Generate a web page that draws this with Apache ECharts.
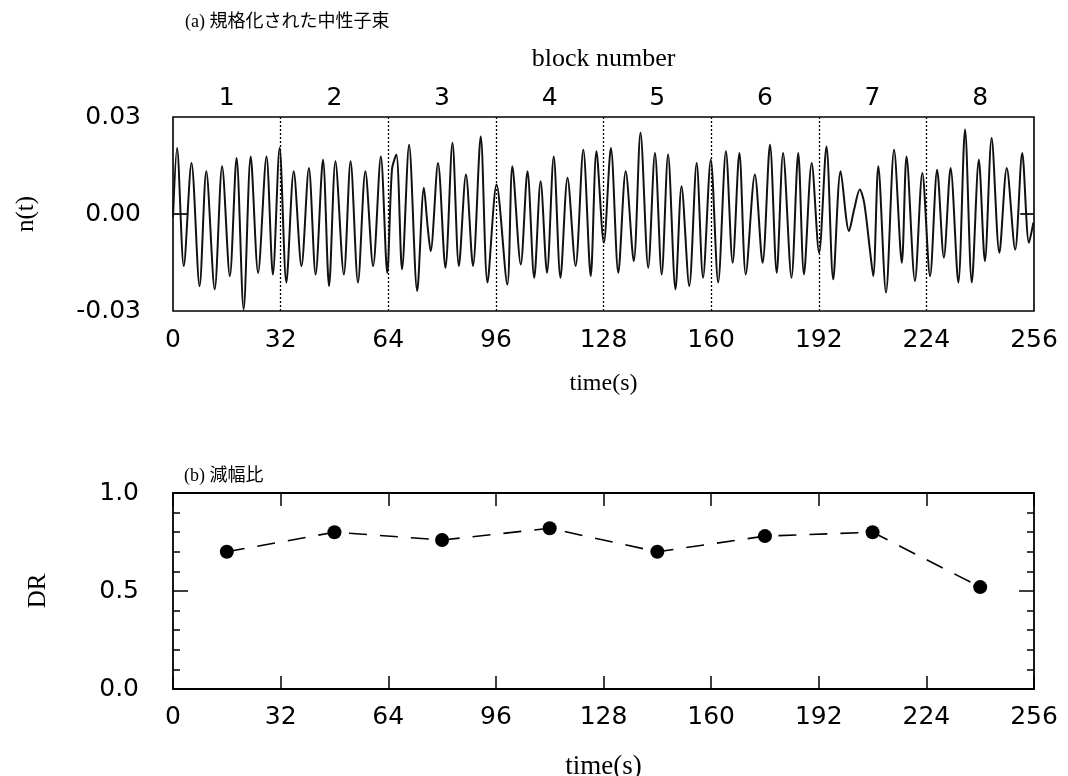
<!DOCTYPE html>
<html>
<head>
<meta charset="utf-8">
<script src="https://cdn.jsdelivr.net/npm/echarts@6/dist/echarts.min.js"></script>
<style>
html,body{margin:0;padding:0;background:#fff;}
#chart{width:1068px;height:776px;}
</style>
</head>
<body>
<div id="chart"></div>
<script>
// ---- data ----
const fluxTime = [
  0, 1.2, 3.2, 5.5, 7.9, 9.9, 12.4, 14.6, 16.9, 18.9, 21.0, 23.1, 25.3, 27.8, 29.7, 31.7,
  33.7, 35.9, 38.2, 40.4, 42.4, 44.6, 46.4, 48.3, 50.8, 52.8, 55.0, 57.2, 59.5, 61.8, 63.7,
  65.1, 66.4, 68.1, 70.2, 72.6, 74.6, 75.7, 76.6, 78.8, 81.0, 83.1, 85.0, 87.1, 89.2, 91.5, 93.5, 96.2,
  99.4, 100.9, 103.4, 105.4, 107.4, 109.3, 111.2, 113.2, 115.2, 117.3, 119.7, 122.0, 124.2, 125.9, 128.1,
  130.2, 132.4, 134.6, 137.0, 139.0, 141.3, 143.3, 145.3, 147.2, 149.4, 151.2, 153.5, 155.7, 157.6, 159.9,
  162.1, 164.4, 166.4, 168.4, 170.3, 173.0, 175.3, 177.5, 179.5, 181.4, 183.9, 185.9, 187.6, 189.9, 192.1,
  194.3, 196.3, 198.5, 201.0, 202.5, 204.2, 205.5, 207.2, 208.2, 209.7, 212.0, 214.4, 216.7, 218.1, 220.6, 222.8,
  225.1, 227.2, 229.2, 231.2, 233.5, 235.5, 237.5, 239.6, 241.4, 243.4, 245.7, 247.9, 250.4, 252.5, 254.5, 255.8
];
const fluxValue = [
  -0.001, 0.0204, -0.0161, 0.0158, -0.0223, 0.0132, -0.0233, 0.0148, -0.0192, 0.0173, -0.0295, 0.0178, -0.0182, 0.0178, -0.0187, 0.0204,
  -0.0212, 0.0132, -0.0161, 0.0142, -0.0187, 0.0168, -0.0223, 0.0163, -0.0187, 0.0163, -0.0212, 0.0132, -0.0161, 0.0178, -0.0182,
  0.0137, 0.0184, -0.0171, 0.0214, -0.0238, 0.0081, -0.0038, -0.0115, 0.0158, -0.0166, 0.0220, -0.0161, 0.0122, -0.0161, 0.0240, -0.0212, 0.0091,
  -0.0218, 0.0148, -0.0156, 0.0132, -0.0197, 0.0101, -0.0182, 0.0178, -0.0197, 0.0112, -0.0161, 0.0199, -0.0192, 0.0194, -0.0089,
  0.0204, -0.0182, 0.0132, -0.0146, 0.0251, -0.0166, 0.0189, -0.0187, 0.0184, -0.0233, 0.0086, -0.0223, 0.0158, -0.0197, 0.0168,
  -0.0212, 0.0194, -0.0151, 0.0189, -0.0187, 0.0122, -0.0151, 0.0214, -0.0182, 0.0189, -0.0197, 0.0189, -0.0187, 0.0158, -0.0120,
  0.0209, -0.0202, 0.0132, -0.0053, 0.0013, 0.0076, 0.0035, -0.0110, -0.0192, 0.0148, -0.0243, 0.0199, -0.0151, 0.0178, -0.0207, 0.0127,
  -0.0192, 0.0137, -0.0135, 0.0142, -0.0212, 0.0261, -0.0212, 0.0168, -0.0146, 0.0235, -0.0120, 0.0142, -0.0110, 0.0189, -0.0089, -0.0027
];
const zeroStartTime = [0, 4.5];
const zeroEndTime = [251.9, 256];
const blockLabels = ['1', '2', '3', '4', '5', '6', '7', '8'];
const drTime = [16, 48, 80, 112, 144, 176, 208, 240];
const drValue = [0.70, 0.80, 0.76, 0.82, 0.70, 0.78, 0.80, 0.52];
const fluxTickLabels = { '0.03': '0.03', '0': '0.00', '-0.03': '-0.03' };

// ---- build series data ----
const fluxData = fluxTime.map((t, i) => [t, fluxValue[i]]);
const zeroStart = zeroStartTime.map(t => [t, 0]);
const zeroEnd = zeroEndTime.map(t => [t, 0]);
const drData = drTime.map((t, i) => [t, drValue[i]]);

const tickFont = { fontFamily: 'DejaVu Sans', fontSize: 25, color: '#000' };
const serif = "'Liberation Serif', 'Noto Sans CJK JP', serif";
const hiddenLine = { show: false, onZero: false };
const tickStyle = { color: '#000', width: 1.5 };

const chart = echarts.init(document.getElementById('chart'), null, { renderer: 'canvas' });
chart.setOption({
  animation: false,
  backgroundColor: '#fff',
  title: [
    { text: '(a) 規格化された中性子束', left: 180, top: 8,
      textStyle: { fontFamily: serif, fontSize: 18, fontWeight: 'normal', color: '#000' } },
    { text: '(b) 減幅比', left: 179, top: 462,
      textStyle: { fontFamily: serif, fontSize: 18, fontWeight: 'normal', color: '#000' } }
  ],
  grid: [
    { left: 173, top: 117, width: 861, height: 194, show: true, borderColor: '#000', borderWidth: 1.6,
      backgroundColor: 'transparent', outerBoundsMode: 'none', containLabel: false },
    { left: 173, top: 493, width: 861, height: 196, show: true, borderColor: '#000', borderWidth: 1.8,
      backgroundColor: 'transparent', outerBoundsMode: 'none', containLabel: false }
  ],
  xAxis: [
    { gridIndex: 0, type: 'value', min: 0, max: 256, interval: 32, position: 'bottom',
      axisLine: hiddenLine, axisTick: { show: false },
      axisLabel: Object.assign({ margin: 17 }, tickFont),
      splitLine: { show: true, showMinLine: false, showMaxLine: false,
        lineStyle: { color: '#000', type: [2, 2], width: 1.3 } },
      name: 'time(s)', nameLocation: 'middle', nameGap: 61,
      nameTextStyle: { fontFamily: serif, fontSize: 24, color: '#000' } },
    { gridIndex: 0, type: 'category', data: blockLabels, position: 'top', boundaryGap: true,
      axisLine: hiddenLine, axisTick: { show: false }, splitLine: { show: false },
      axisLabel: Object.assign({ margin: 6 }, tickFont),
      name: 'block number', nameLocation: 'middle', nameGap: 45,
      nameTextStyle: { fontFamily: serif, fontSize: 26, color: '#000' } },
    { gridIndex: 1, type: 'value', min: 0, max: 256, interval: 32, position: 'bottom',
      axisLine: hiddenLine,
      axisTick: { show: true, inside: true, length: 13, lineStyle: tickStyle },
      axisLabel: Object.assign({ margin: 16 }, tickFont),
      splitLine: { show: false },
      name: 'time(s)', nameLocation: 'middle', nameGap: 64,
      nameTextStyle: { fontFamily: serif, fontSize: 27, color: '#000' } },
    { gridIndex: 1, type: 'value', min: 0, max: 256, interval: 32, position: 'top',
      axisLine: hiddenLine,
      axisTick: { show: true, inside: true, length: 13, lineStyle: tickStyle },
      axisLabel: { show: false }, splitLine: { show: false } }
  ],
  yAxis: [
    { gridIndex: 0, type: 'value', min: -0.03, max: 0.03, interval: 0.03, position: 'left',
      axisLine: hiddenLine, axisTick: { show: false }, splitLine: { show: false },
      axisLabel: Object.assign({ margin: 32,
        formatter: v => fluxTickLabels[String(Math.round(v * 100) / 100)] }, tickFont),
      name: 'n(t)', nameLocation: 'middle', nameGap: 134,
      nameTextStyle: { fontFamily: serif, fontSize: 25, color: '#000' } },
    { gridIndex: 1, type: 'value', min: 0, max: 1, interval: 0.5, position: 'left',
      axisLine: hiddenLine,
      axisTick: { show: true, inside: true, length: 15, lineStyle: tickStyle },
      minorTick: { show: true, splitNumber: 5, length: 7, lineStyle: tickStyle },
      splitLine: { show: false }, minorSplitLine: { show: false },
      axisLabel: Object.assign({ margin: 34, formatter: v => v.toFixed(1) }, tickFont),
      name: 'DR', nameLocation: 'middle', nameGap: 122,
      nameTextStyle: { fontFamily: serif, fontSize: 25, color: '#000' } },
    { gridIndex: 1, type: 'value', min: 0, max: 1, interval: 0.5, position: 'right',
      axisLine: hiddenLine,
      axisTick: { show: true, inside: true, length: 15, lineStyle: tickStyle },
      minorTick: { show: true, splitNumber: 5, length: 7, lineStyle: tickStyle },
      splitLine: { show: false }, minorSplitLine: { show: false },
      axisLabel: { show: false } }
  ],
  series: [
    { type: 'line', xAxisIndex: 0, yAxisIndex: 0, data: fluxData, showSymbol: false, smooth: 0.3,
      lineStyle: { color: '#111', width: 2 }, silent: true },
    { type: 'line', xAxisIndex: 0, yAxisIndex: 0, data: zeroStart, showSymbol: false,
      lineStyle: { color: '#111', width: 1.8 }, silent: true },
    { type: 'line', xAxisIndex: 0, yAxisIndex: 0, data: zeroEnd, showSymbol: false,
      lineStyle: { color: '#111', width: 1.8 }, silent: true },
    { type: 'line', xAxisIndex: 2, yAxisIndex: 1, data: drData, symbol: 'circle', symbolSize: 14,
      itemStyle: { color: '#000' }, lineStyle: { color: '#000', width: 1.6, type: [18, 13] }, silent: true }
  ]
});
</script>
</body>
</html>
